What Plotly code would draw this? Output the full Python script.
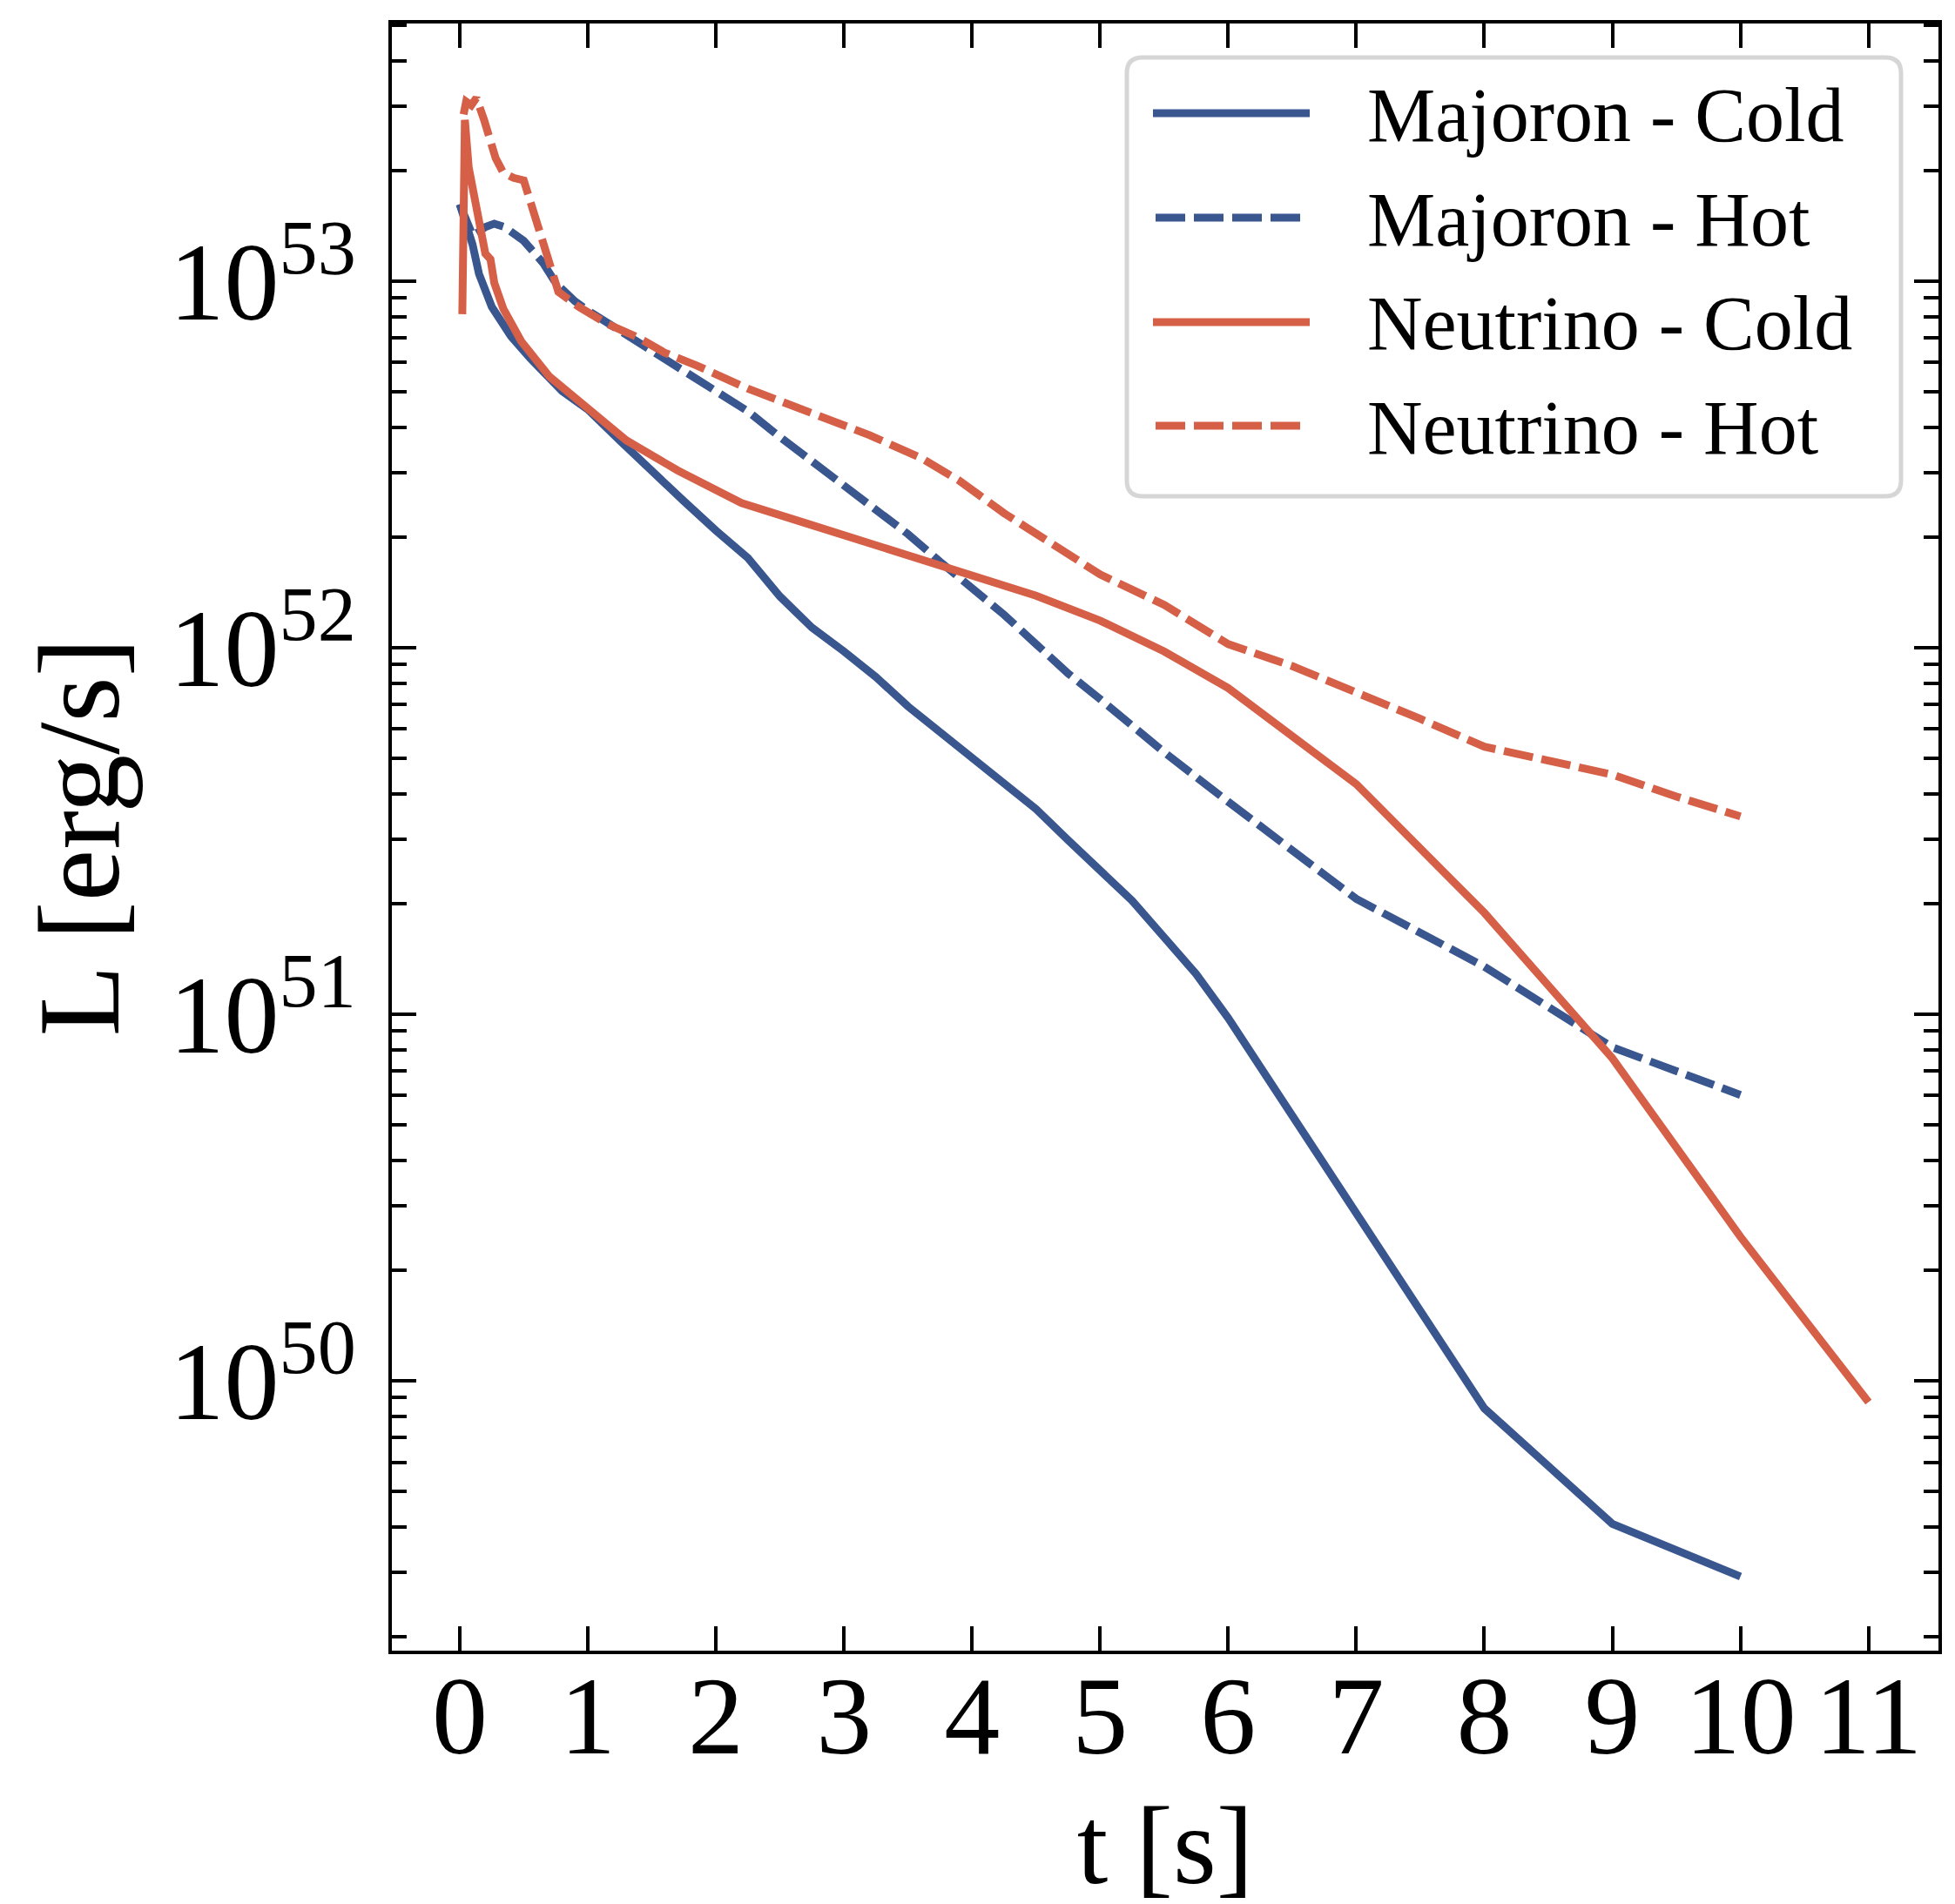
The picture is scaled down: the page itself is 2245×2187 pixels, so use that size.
import plotly.graph_objects as go

# ---------------- data (log10 of luminosity in erg/s) ----------------
t_maj_cold = [0, 0.05, 0.1, 0.15, 0.25, 0.4, 0.55, 0.8, 1.0, 1.25, 1.5, 1.75, 2.0, 2.25, 2.5,
              2.75, 3.0, 3.25, 3.5, 3.75, 4.0, 4.25, 4.5, 4.75, 5.0, 5.25, 5.5, 5.75, 6, 7, 8, 9, 10]
logL_maj_cold = [53.21, 53.16, 53.10, 53.02, 52.93, 52.85, 52.79, 52.70, 52.65, 52.565, 52.48, 52.40,
                 52.32, 52.245, 52.14, 52.055, 51.99, 51.92, 51.84, 51.77, 51.70, 51.625, 51.56,
                 51.475, 51.39, 51.31, 51.21, 51.11, 50.99, 50.46, 49.925, 49.61, 49.466]

t_maj_hot = [0, 0.05, 0.1, 0.15, 0.2, 0.27, 0.35, 0.5, 0.65, 0.75, 0.9, 1.0, 1.25, 1.5, 1.75, 2.0,
             2.25, 2.5, 2.75, 3.0, 3.25, 3.5, 3.75, 4.0, 4.25, 4.5, 4.75, 5.0, 5.5, 6, 7, 8, 9, 10]
logL_maj_hot = [53.21, 53.16, 53.125, 53.135, 53.148, 53.157, 53.148, 53.11, 53.05, 52.995, 52.945,
                52.92, 52.865, 52.815, 52.76, 52.70, 52.645, 52.575, 52.51, 52.445, 52.38, 52.31,
                52.235, 52.165, 52.09, 52.01, 51.93, 51.86, 51.715, 51.58, 51.315, 51.13, 50.91, 50.78]

t_nu_cold = [0.02, 0.04, 0.07, 0.14, 0.2, 0.24, 0.27, 0.34, 0.48, 0.7, 1.0, 1.3, 1.7, 2.2, 2.7,
             3.2, 3.7, 4.1, 4.5, 5.0, 5.5, 6, 7, 8, 9, 10, 11]
logL_nu_cold = [52.91, 53.44, 53.31, 53.17, 53.075, 53.06, 52.995, 52.925, 52.836, 52.74, 52.655,
                52.566, 52.484, 52.395, 52.34, 52.285, 52.23, 52.183, 52.142, 52.074, 51.99, 51.89,
                51.628, 51.277, 50.88, 50.393, 49.942]

t_nu_hot = [0.03, 0.05, 0.09, 0.13, 0.19, 0.28, 0.34, 0.42, 0.5, 0.61, 0.7, 0.77, 0.93, 1.15, 1.4,
            1.6, 1.85, 2.25, 2.75, 3.2, 3.6, 3.9, 4.25, 4.6, 5.0, 5.5, 6, 6.5, 7, 7.5, 8, 8.5, 9,
            9.5, 10]
logL_nu_hot = [53.455, 53.49, 53.48, 53.50, 53.44, 53.336, 53.296, 53.282, 53.275, 53.154, 53.043,
               52.971, 52.93, 52.884, 52.845, 52.805, 52.77, 52.707, 52.64, 52.58, 52.518, 52.456,
               52.367, 52.29, 52.20, 52.117, 52.01, 51.95, 51.88, 51.806, 51.73, 51.692, 51.654,
               51.594, 51.54]

series_names = ["Majoron - Cold", "Majoron - Hot", "Neutrino - Cold", "Neutrino - Hot"]
x_ticks = list(range(0, 12))
y_major_exp = [50, 51, 52, 53]

BLUE = "#39568F"
RED = "#D65F47"
FONT = "Liberation Serif"
DASH = "34px,10px"
LW = 9

series = [
    (t_maj_cold, logL_maj_cold, BLUE, "solid"),
    (t_maj_hot, logL_maj_hot, BLUE, DASH),
    (t_nu_cold, logL_nu_cold, RED, "solid"),
    (t_nu_hot, logL_nu_hot, RED, DASH),
]

fig = go.Figure()
for (tt, ll, col, dash), name in zip(series, series_names):
    fig.add_trace(go.Scatter(x=tt, y=[10.0 ** v for v in ll], mode="lines", name=name,
                             showlegend=False,
                             line=dict(color=col, width=LW, dash=dash)))

# ---------------- geometry ----------------
W_FIG, H_FIG = 2245, 2187
L, R, T, B = 442, 2218, 19, 1888
PW, PH = R - L, B - T


def px(xp):
    return (xp - L) / PW


def py(yp):
    return (B - yp) / PH


minor_vals = [float(k) * 10.0 ** e for e in range(49, 54) for k in range(2, 10)]

fig.update_layout(
    width=W_FIG, height=H_FIG,
    margin=dict(l=L, r=W_FIG - R, t=T, b=H_FIG - B, pad=0),
    paper_bgcolor="white", plot_bgcolor="white",
    font=dict(family=FONT, color="black"),
    showlegend=False,
)

fig.update_xaxes(
    range=[-0.53, 11.546], tickmode="array", tickvals=x_ticks,
    ticktext=[str(v) for v in x_ticks],
    ticks="inside", ticklen=28, tickwidth=4, tickcolor="black",
    showline=True, linewidth=4, linecolor="black", mirror="allticks",
    showgrid=False, zeroline=False,
    tickfont=dict(family=FONT, size=128, color="black"),
    ticklabelstandoff=-40,
    title=dict(text="t [s]", font=dict(family=FONT, size=128, color="black"), standoff=34),
)

fig.update_yaxes(
    type="log", range=[49.264, 53.703], tickmode="array",
    tickvals=[10.0 ** e for e in y_major_exp],
    ticktext=["10<sup>%d</sup>" % e for e in y_major_exp],
    ticks="inside", ticklen=28, tickwidth=4, tickcolor="black",
    minor=dict(tickmode="array", tickvals=minor_vals, ticks="inside", ticklen=17,
               tickwidth=4, tickcolor="black", showgrid=False),
    showline=True, linewidth=4, linecolor="black", mirror="allticks",
    showgrid=False, zeroline=False,
    tickfont=dict(family=FONT, size=126, color="black"),
    ticklabelstandoff=12,
    title=dict(text="L [erg/s]", font=dict(family=FONT, size=134, color="black"), standoff=14),
)

# ---------------- legend (drawn box + samples + text) ----------------
bx0, bx1, by0, by1 = 1286, 2175, 58, 562
rad = 18
rx, ry = rad / PW, rad / PH
X0, X1, Y0, Y1 = px(bx0), px(bx1), py(by1), py(by0)
path = (f"M {X0 + rx},{Y0} L {X1 - rx},{Y0} Q {X1},{Y0} {X1},{Y0 + ry} "
        f"L {X1},{Y1 - ry} Q {X1},{Y1} {X1 - rx},{Y1} L {X0 + rx},{Y1} "
        f"Q {X0},{Y1} {X0},{Y1 - ry} L {X0},{Y0 + ry} Q {X0},{Y0} {X0 + rx},{Y0} Z")
shapes = [dict(type="path", path=path, xref="paper", yref="paper",
               line=dict(color="#d6d6d6", width=5), fillcolor="rgba(255,255,255,0.85)",
               layer="above")]
annotations = []
rows = [122, 242, 362, 481]
for (tt, ll, col, dash), name, ry_px in zip(series, series_names, rows):
    lx0, lx1 = (1316, 1496) if dash == "solid" else (1319, 1485)
    shapes.append(dict(type="line", xref="paper", yref="paper",
                       x0=px(lx0), x1=px(lx1), y0=py(ry_px), y1=py(ry_px),
                       line=dict(color=col, width=LW, dash=dash), layer="above"))
    annotations.append(dict(text=name, xref="paper", yref="paper", x=px(1560), y=py(ry_px + 2),
                            xanchor="left", yanchor="middle", showarrow=False,
                            font=dict(family=FONT, size=88, color="black")))
fig.update_layout(shapes=shapes, annotations=annotations)

fig.write_html("out.html")
